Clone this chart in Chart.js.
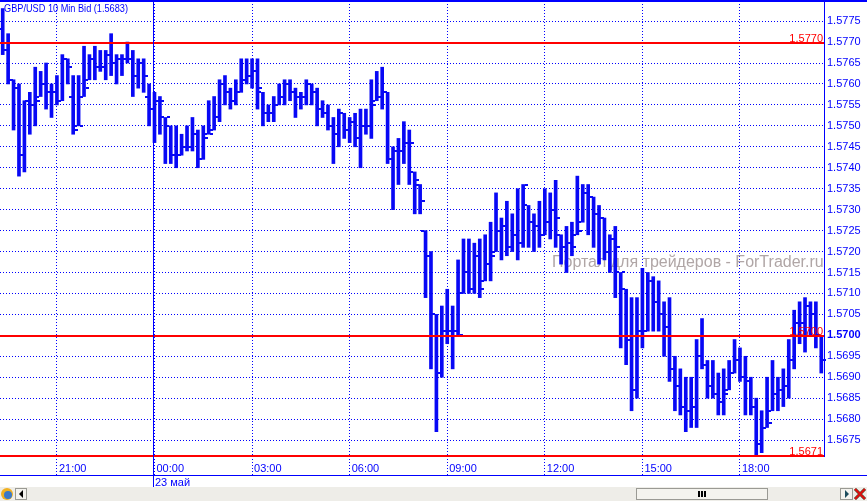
<!DOCTYPE html>
<html>
<head>
<meta charset="utf-8">
<title>GBP/USD 10 Min Bid</title>
<script src="https://cdn.jsdelivr.net/npm/chart.js@4.4.0/dist/chart.umd.min.js"></script>
<style>
  html, body { margin: 0; padding: 0; background: #fff; }
  canvas { display: block; }
</style>
</head>
<body>
<canvas id="priceChart" width="867" height="501"></canvas>
<script>
// GBP/USD 10 min bars (bid), one bar every 10 minutes

var startHour = 19, startMinute = 20; // time of the first bar
var shownTimes = ['21:00', '00:00', '03:00', '06:00', '09:00', '12:00', '15:00', '18:00'];
var dayBreak = '00:00';
var yTicks = [1.5675, 1.5680, 1.5685, 1.5690, 1.5695, 1.5700, 1.5705, 1.5710, 1.5715, 1.5720, 1.5725,
    1.5730, 1.5735, 1.5740, 1.5745, 1.5750, 1.5755, 1.5760, 1.5765, 1.5770, 1.5775];

var opens = [
    1.5773, 1.5768, 1.5761, 1.5759, 1.5743, 1.5756, 1.5755, 1.5757, 1.5760, 1.5758,
    1.5758, 1.5756, 1.5766, 1.5757, 1.5750, 1.5757, 1.5761, 1.5766, 1.5764, 1.5764,
    1.5767, 1.5765, 1.5766, 1.5766, 1.5766, 1.5762, 1.5765, 1.5757, 1.5754, 1.5756,
    1.5752, 1.5750, 1.5743, 1.5743, 1.5745, 1.5745, 1.5748, 1.5742, 1.5748, 1.5749,
    1.5752, 1.5760, 1.5758, 1.5756, 1.5758, 1.5761, 1.5762, 1.5763, 1.5758, 1.5753,
    1.5753, 1.5755, 1.5757, 1.5760, 1.5758, 1.5757, 1.5757, 1.5760, 1.5758, 1.5754,
    1.5753, 1.5750, 1.5748, 1.5753, 1.5749, 1.5751, 1.5747, 1.5750, 1.5750, 1.5756,
    1.5757, 1.5758, 1.5742, 1.5744, 1.5744, 1.5746, 1.5739, 1.5736, 1.5725, 1.5719,
    1.5705, 1.5691, 1.5701, 1.5701, 1.5701, 1.5710, 1.5715, 1.5711, 1.5719, 1.5713,
    1.5717, 1.5720, 1.5725, 1.5726, 1.5721, 1.5724, 1.5722, 1.5731, 1.5727, 1.5726,
    1.5724, 1.5727, 1.5730, 1.5724, 1.5721, 1.5722, 1.5724, 1.5727, 1.5734, 1.5733,
    1.5729, 1.5728, 1.5720, 1.5723, 1.5715, 1.5711, 1.5699, 1.5687, 1.5701, 1.5701,
    1.5713, 1.5708, 1.5705, 1.5702, 1.5692, 1.5688, 1.5683, 1.5682, 1.5683, 1.5695,
    1.5693, 1.5688, 1.5686, 1.5684, 1.5687, 1.5691, 1.5694, 1.5690, 1.5689, 1.5683,
    1.5674, 1.5678, 1.5682, 1.5686, 1.5687, 1.5688, 1.5694, 1.5703, 1.5703, 1.5707,
    1.5705, 1.5700
];
var highs = [
    1.5778, 1.5772, 1.5761, 1.5760, 1.5756, 1.5758, 1.5764, 1.5763, 1.5765, 1.5760,
    1.5762, 1.5767, 1.5766, 1.5762, 1.5762, 1.5769, 1.5767, 1.5769, 1.5768, 1.5768,
    1.5772, 1.5767, 1.5767, 1.5770, 1.5768, 1.5766, 1.5766, 1.5760, 1.5758, 1.5757,
    1.5752, 1.5750, 1.5750, 1.5748, 1.5750, 1.5752, 1.5749, 1.5750, 1.5756, 1.5757,
    1.5761, 1.5762, 1.5759, 1.5761, 1.5766, 1.5766, 1.5766, 1.5766, 1.5758, 1.5755,
    1.5757, 1.5760, 1.5761, 1.5761, 1.5759, 1.5758, 1.5761, 1.5760, 1.5759, 1.5756,
    1.5755, 1.5752, 1.5754, 1.5753, 1.5752, 1.5753, 1.5754, 1.5754, 1.5761, 1.5763,
    1.5764, 1.5758, 1.5745, 1.5747, 1.5751, 1.5749, 1.5739, 1.5736, 1.5725, 1.5720,
    1.5705, 1.5707, 1.5711, 1.5707, 1.5718, 1.5723, 1.5723, 1.5722, 1.5723, 1.5724,
    1.5727, 1.5734, 1.5728, 1.5732, 1.5729, 1.5735, 1.5736, 1.5731, 1.5729, 1.5732,
    1.5735, 1.5734, 1.5737, 1.5724, 1.5726, 1.5727, 1.5738, 1.5736, 1.5736, 1.5733,
    1.5731, 1.5728, 1.5724, 1.5726, 1.5715, 1.5711, 1.5709, 1.5709, 1.5716, 1.5715,
    1.5714, 1.5713, 1.5708, 1.5709, 1.5695, 1.5692, 1.5690, 1.5690, 1.5699, 1.5704,
    1.5694, 1.5694, 1.5691, 1.5692, 1.5694, 1.5699, 1.5697, 1.5695, 1.5690, 1.5685,
    1.5682, 1.5690, 1.5694, 1.5690, 1.5692, 1.5699, 1.5706, 1.5708, 1.5709, 1.5708,
    1.5708, 1.5700
];
var lows = [
    1.5767, 1.5760, 1.5749, 1.5738, 1.5739, 1.5748, 1.5750, 1.5757, 1.5754, 1.5752,
    1.5755, 1.5756, 1.5760, 1.5748, 1.5750, 1.5757, 1.5761, 1.5761, 1.5763, 1.5761,
    1.5762, 1.5760, 1.5762, 1.5765, 1.5757, 1.5759, 1.5758, 1.5750, 1.5746, 1.5748,
    1.5741, 1.5741, 1.5740, 1.5743, 1.5744, 1.5744, 1.5740, 1.5742, 1.5748, 1.5749,
    1.5751, 1.5755, 1.5754, 1.5755, 1.5758, 1.5760, 1.5759, 1.5754, 1.5750, 1.5751,
    1.5751, 1.5755, 1.5755, 1.5756, 1.5752, 1.5754, 1.5755, 1.5755, 1.5750, 1.5752,
    1.5749, 1.5741, 1.5745, 1.5747, 1.5746, 1.5745, 1.5740, 1.5748, 1.5747, 1.5756,
    1.5754, 1.5741, 1.5730, 1.5736, 1.5741, 1.5736, 1.5729, 1.5729, 1.5709, 1.5692,
    1.5677, 1.5690, 1.5698, 1.5692, 1.5700, 1.5710, 1.5710, 1.5710, 1.5709, 1.5713,
    1.5713, 1.5720, 1.5718, 1.5719, 1.5720, 1.5718, 1.5721, 1.5721, 1.5720, 1.5721,
    1.5724, 1.5723, 1.5721, 1.5717, 1.5715, 1.5719, 1.5724, 1.5727, 1.5724, 1.5721,
    1.5717, 1.5718, 1.5715, 1.5709, 1.5697, 1.5693, 1.5682, 1.5685, 1.5697, 1.5701,
    1.5701, 1.5701, 1.5695, 1.5689, 1.5682, 1.5681, 1.5677, 1.5678, 1.5678, 1.5692,
    1.5685, 1.5685, 1.5681, 1.5681, 1.5687, 1.5691, 1.5689, 1.5681, 1.5681, 1.5671,
    1.5672, 1.5678, 1.5682, 1.5682, 1.5683, 1.5685, 1.5692, 1.5698, 1.5696, 1.5700,
    1.5697, 1.5691
];
var closes = [
    1.5768, 1.5761, 1.5759, 1.5743, 1.5756, 1.5755, 1.5756, 1.5760, 1.5758, 1.5758,
    1.5756, 1.5766, 1.5764, 1.5749, 1.5750, 1.5759, 1.5766, 1.5764, 1.5764, 1.5767,
    1.5765, 1.5766, 1.5766, 1.5766, 1.5762, 1.5765, 1.5762, 1.5754, 1.5756, 1.5756,
    1.5752, 1.5743, 1.5743, 1.5745, 1.5745, 1.5748, 1.5742, 1.5747, 1.5748, 1.5752,
    1.5760, 1.5758, 1.5756, 1.5758, 1.5761, 1.5762, 1.5763, 1.5759, 1.5753, 1.5753,
    1.5755, 1.5757, 1.5760, 1.5758, 1.5757, 1.5757, 1.5760, 1.5758, 1.5754, 1.5753,
    1.5750, 1.5748, 1.5753, 1.5749, 1.5751, 1.5747, 1.5750, 1.5750, 1.5755, 1.5757,
    1.5758, 1.5742, 1.5744, 1.5744, 1.5746, 1.5746, 1.5737, 1.5732, 1.5719, 1.5705,
    1.5691, 1.5701, 1.5701, 1.5701, 1.5700, 1.5715, 1.5711, 1.5719, 1.5711, 1.5717,
    1.5719, 1.5725, 1.5726, 1.5721, 1.5724, 1.5722, 1.5736, 1.5727, 1.5726, 1.5724,
    1.5727, 1.5730, 1.5728, 1.5721, 1.5722, 1.5721, 1.5725, 1.5734, 1.5733, 1.5729,
    1.5728, 1.5720, 1.5723, 1.5721, 1.5715, 1.5699, 1.5687, 1.5701, 1.5701, 1.5713,
    1.5708, 1.5705, 1.5702, 1.5692, 1.5688, 1.5683, 1.5682, 1.5683, 1.5695, 1.5693,
    1.5688, 1.5686, 1.5684, 1.5686, 1.5691, 1.5694, 1.5690, 1.5689, 1.5683, 1.5674,
    1.5678, 1.5679, 1.5686, 1.5687, 1.5688, 1.5694, 1.5703, 1.5703, 1.5707, 1.5705,
    1.5700, 1.5694
];

// horizontal red levels
var levelValues = [1.5770, 1.5700, 1.5671];
var levelLabels = ['1.5770', '1.5700', '1.5671'];

var titleText = 'GBP/USD 10 Min Bid (1.5683)';
var dateText = '23 май';
var watermarkText = 'Портал для трейдеров - ForTrader.ru';

var blue = '#0000ff';
var barBlue = 'rgb(8, 8, 245)';
var red = '#ff0000';
var uiFont = '"Liberation Sans", Arial, sans-serif';
var dots = [1, 2];

function pad(n) {
    return n < 10 ? '0' + n : '' + n;
}

// bar time labels (hh:mm) for the category axis
var barTimes = opens.map(function (o, i) {
    var m = startHour * 60 + startMinute + i * 10;
    return pad(Math.floor(m / 60) % 24) + ':' + pad(m % 60);
});

function isShown(i) {
    return shownTimes.indexOf(barTimes[i]) !== -1;
}

var chartDecor = {
    id: 'chartDecor',
    beforeDatasetsDraw: function (chart) {
        var ctx = chart.ctx;
        ctx.save();
        ctx.font = '16px ' + uiFont;
        ctx.fillStyle = '#b0a6a6';
        ctx.textBaseline = 'alphabetic';
        ctx.fillText(watermarkText, 552, 267);
        ctx.restore();
    },
    afterDatasetsDraw: function (chart) {
        var ctx = chart.ctx, xs = chart.scales.x, ys = chart.scales.y, area = chart.chartArea;
        ctx.save();
        // open (left) and close (right) ticks
        ctx.fillStyle = barBlue;
        for (var i = 0; i < opens.length; i++) {
            var left = Math.round(xs.getPixelForValue(i) - 1.5);
            ctx.fillRect(left - 3, Math.round(ys.getPixelForValue(opens[i])) - 1, 3, 2);
            ctx.fillRect(left + 3, Math.round(ys.getPixelForValue(closes[i])) - 1, 3, 2);
        }
        // red levels with their values
        ctx.font = '11px ' + uiFont;
        ctx.textAlign = 'right';
        ctx.textBaseline = 'alphabetic';
        levelValues.forEach(function (v, k) {
            var y = Math.min(Math.round(ys.getPixelForValue(v)), Math.round(area.bottom) - 1);
            ctx.fillStyle = red;
            ctx.fillRect(area.left, y, area.right - area.left, 2);
            ctx.fillText(levelLabels[k], area.right - 1, y);
        });
        ctx.restore();
    },
    afterDraw: function (chart) {
        var ctx = chart.ctx, xs = chart.scales.x, W = chart.width;
        ctx.save();
        // top border
        ctx.fillStyle = blue;
        ctx.fillRect(0, 0, W, 2);
        // line between the time row and the date row
        ctx.fillRect(0, 475, W, 1);
        // day separator
        var dx = Math.floor(xs.getPixelForValue(barTimes.indexOf(dayBreak))) - 1;
        ctx.fillRect(dx, 0, 1, 487);
        ctx.font = '11px ' + uiFont;
        ctx.textBaseline = 'alphabetic';
        ctx.fillText(dateText, dx + 2, 486);
        // title
        ctx.fillText(titleText, 4, 12, 124);

        // scroll bar strip
        ctx.fillStyle = '#eeede8';
        ctx.fillRect(0, 487, W, 14);
        // left icon
        ctx.fillStyle = '#f0b020';
        ctx.beginPath();
        ctx.arc(7, 494, 6, 0, Math.PI * 2);
        ctx.fill();
        ctx.fillStyle = '#3a78c8';
        ctx.beginPath();
        ctx.arc(8, 495, 4, 0, Math.PI * 2);
        ctx.fill();
        // buttons
        function button(x, w) {
            ctx.fillStyle = '#f4f3ee';
            ctx.fillRect(x, 488, w, 12);
            ctx.strokeStyle = '#9a9a94';
            ctx.lineWidth = 1;
            ctx.strokeRect(x + 0.5, 488.5, w - 1, 11);
        }
        button(15, 12);
        ctx.fillStyle = '#000';
        ctx.beginPath();
        ctx.moveTo(19, 494); ctx.lineTo(23, 490); ctx.lineTo(23, 498); ctx.closePath();
        ctx.fill();
        button(636, 132);
        ctx.fillStyle = '#000';
        ctx.fillRect(698, 491, 2, 6);
        ctx.fillRect(701, 491, 2, 6);
        ctx.fillRect(704, 491, 2, 6);
        button(840, 13);
        ctx.fillStyle = '#1c4c5c';
        ctx.beginPath();
        ctx.moveTo(849, 494); ctx.lineTo(845, 490); ctx.lineTo(845, 498); ctx.closePath();
        ctx.fill();
        // close icon
        ctx.strokeStyle = '#3a4a2a';
        ctx.lineWidth = 3;
        ctx.beginPath();
        ctx.moveTo(855, 489); ctx.lineTo(865, 499);
        ctx.moveTo(865, 489); ctx.lineTo(855, 499);
        ctx.stroke();
        ctx.strokeStyle = '#e01010';
        ctx.lineWidth = 2;
        ctx.stroke();
        ctx.restore();
    }
};

Chart.defaults.font.family = uiFont;
Chart.defaults.font.size = 11;

var ctx = document.getElementById('priceChart').getContext('2d');

var priceChart = new Chart(ctx, {
    type: 'bar',
    data: {
        labels: barTimes,
        datasets: [{
            label: 'GBP/USD',
            data: lows.map(function (lo, i) { return [lo, highs[i]]; }),
            backgroundColor: barBlue,
            borderWidth: 0,
            barThickness: 3
        }]
    },
    options: {
        responsive: false,
        animation: false,
        layout: { padding: { top: 1, left: 0, right: 0, bottom: 0 } },
        plugins: {
            legend: { display: false },
            tooltip: { enabled: false },
            title: { display: false }
        },
        scales: {
            x: {
                type: 'category',
                offset: true,
                afterFit: function (scale) {
                    scale.height = 45;
                    scale.paddingLeft = 0;
                    scale.paddingRight = 0;
                },
                grid: {
                    offset: false,
                    drawOnChartArea: true,
                    color: function (c) { return isShown(c.index) ? blue : 'rgba(0,0,0,0)'; },
                    tickColor: function (c) { return isShown(c.index) ? blue : 'rgba(0,0,0,0)'; },
                    tickLength: 19,
                    tickBorderDash: dots
                },
                border: { display: false, dash: dots },
                ticks: {
                    autoSkip: false,
                    maxRotation: 0,
                    minRotation: 0,
                    align: 'start',
                    labelOffset: 2,
                    padding: -13,
                    color: blue,
                    callback: function (value, index) {
                        return isShown(index) ? barTimes[index] : '';
                    }
                }
            },
            y: {
                position: 'right',
                min: 1.56712,
                max: 1.57798,
                afterFit: function (scale) {
                    scale.width = 43;
                    scale.paddingTop = 0;
                    scale.paddingBottom = 0;
                },
                afterBuildTicks: function (scale) {
                    scale.ticks = yTicks.map(function (v) { return { value: v }; });
                },
                grid: {
                    color: blue,
                    drawTicks: false
                },
                border: { display: true, color: blue, dash: dots },
                ticks: {
                    color: blue,
                    padding: 3,
                    font: function (c) {
                        var bold = c.tick && Math.abs(c.tick.value - 1.57) < 1e-7;
                        return { family: uiFont, size: 11, weight: bold ? 'bold' : 'normal' };
                    },
                    callback: function (value) { return Number(value).toFixed(4); }
                }
            }
        }
    },
    plugins: [chartDecor]
});
</script>
</body>
</html>
